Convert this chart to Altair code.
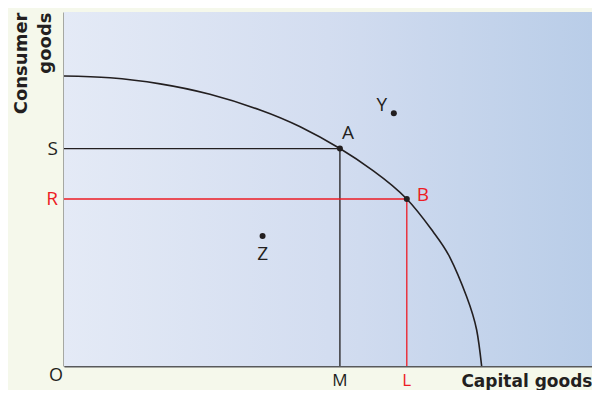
import altair as alt
import pandas as pd

# ---- data ----
curve_x = [0, 1.10, 2.30, 3.49, 4.69, 5.65, 6.60, 7.40, 8.20, 8.83, 9.23, 9.63, 9.87, 9.99]
curve_y = [10, 9.94, 9.73, 9.37, 8.83, 8.25, 7.50, 6.73, 5.76, 4.63, 3.75, 2.40, 1.25, 0]

point_names = ["A", "B", "Y", "Z"]
point_x = [6.60, 8.20, 7.89, 4.75]
point_y = [7.50, 5.76, 8.72, 4.48]

x_max = 12.63
y_max = 12.21

BLACK = "#231f20"
RED = "#ed1c24"
AXIS = "#58595b"
BG = "#f5f8eb"
TXT_FONT = "Open Sans"
BOLD_FONT = "DejaVu Sans"

xs = alt.Scale(domain=[0, x_max], nice=False, zero=False)
ys = alt.Scale(domain=[0, y_max], nice=False, zero=False)

# background gradient
bg_df = pd.DataFrame({"x": [0], "x2": [x_max], "y": [0], "y2": [y_max]})
bg = alt.Chart(bg_df).mark_rect(
    color=alt.LinearGradient(
        gradient="linear",
        stops=[alt.GradientStop(color="#e4eaf6", offset=0),
               alt.GradientStop(color="#d3ddf0", offset=0.5),
               alt.GradientStop(color="#b9cde8", offset=1)],
        x1=0, x2=1, y1=0, y2=0,
    )
).encode(
    x=alt.X("x:Q", scale=xs,
            axis=alt.Axis(title="Capital goods", labels=False, ticks=False, grid=False,
                          domainColor=AXIS, domainWidth=2,
                          titleAnchor="end", titleAlign="right", titleBaseline="alphabetic",
                          titleFont=BOLD_FONT, titleFontSize=17, titleFontWeight="bold",
                          titleColor=BLACK, titlePadding=20)),
    x2="x2:Q",
    y=alt.Y("y:Q", scale=ys,
            axis=alt.Axis(title=["Consumer", "goods"], labels=False, ticks=False, grid=False,
                          domainColor=AXIS, domainWidth=2,
                          titleAnchor="end", titleAngle=270, titleAlign="right",
                          titleBaseline="bottom", titleLineHeight=24,
                          titleFont=BOLD_FONT, titleFontSize=18, titleFontWeight="bold",
                          titleColor=BLACK, titlePadding=10)),
    y2="y2:Q",
)

# frontier
curve_df = pd.DataFrame({"x": curve_x, "y": curve_y, "o": list(range(len(curve_x)))})
curve = alt.Chart(curve_df).mark_line(color=BLACK, strokeWidth=1.6, interpolate="natural").encode(
    x=alt.X("x:Q", scale=xs), y=alt.Y("y:Q", scale=ys), order="o:Q"
)

# guide lines S-A-M (black) and R-B-L (red)
ax, bx = point_x[0], point_x[1]
ay, by = point_y[0], point_y[1]
guide_df = pd.DataFrame({
    "x": [0, ax, ax, 0, bx, bx],
    "y": [ay, ay, 0, by, by, 0],
    "g": ["A", "A", "A", "B", "B", "B"],
    "o": [0, 1, 2, 0, 1, 2],
})
guides = alt.Chart(guide_df).mark_line(strokeWidth=1.3).encode(
    x=alt.X("x:Q", scale=xs), y=alt.Y("y:Q", scale=ys), order="o:Q",
    color=alt.Color("g:N", scale=alt.Scale(domain=["A", "B"], range=[BLACK, RED]), legend=None),
    detail="g:N",
)

pts_df = pd.DataFrame({"name": point_names, "x": point_x, "y": point_y})
pts = alt.Chart(pts_df).mark_circle(size=36, color=BLACK, opacity=1).encode(
    x=alt.X("x:Q", scale=xs), y=alt.Y("y:Q", scale=ys)
)


def label(text, x, y, dx, dy, color=BLACK, align="center", size=19):
    df = pd.DataFrame({"t": [text], "x": [x], "y": [y]})
    return alt.Chart(df).mark_text(
        dx=dx, dy=dy, align=align, baseline="middle", font=TXT_FONT,
        fontSize=size, color=color
    ).encode(x=alt.X("x:Q", scale=xs), y=alt.Y("y:Q", scale=ys), text="t:N")


labels = [
    label("A", point_x[0], point_y[0], 8, -16),
    label("B", point_x[1], point_y[1], 16, -4, color=RED),
    label("Y", point_x[2], point_y[2], -12, -8),
    label("Z", point_x[3], point_y[3], 0, 18),
    label("S", 0, ay, -6, 0, align="right"),
    label("R", 0, by, -6, 0, color=RED, align="right"),
    label("O", 0, 0, -8, 10, size=18),
    label("M", ax, 0, 0, 15, size=17),
    label("L", bx, 0, 0, 15, color=RED, size=17),
]

chart = alt.layer(bg, curve, guides, pts, *labels).properties(
    width=528, height=354,
    autosize=alt.AutoSizeParams(type="none"),
    padding={"left": 56, "top": 4, "right": 0, "bottom": 24},
    background=BG,
).configure_view(stroke=None)

chart.save("out.html", embed_options={"renderer": "svg", "actions": False})
